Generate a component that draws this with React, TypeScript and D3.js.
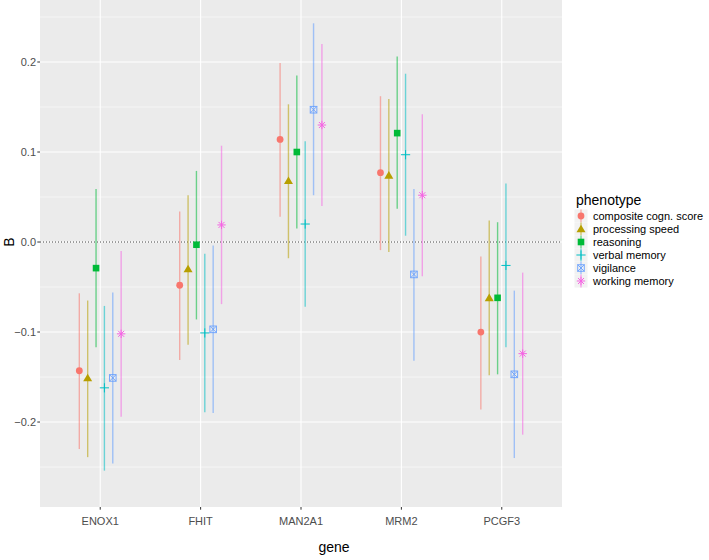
import React from "react";
import * as d3 from "d3";

const genes = ["ENOX1", "FHIT", "MAN2A1", "MRM2", "PCGF3"];
const phenotypes = [
  "composite cogn. score",
  "processing speed",
  "reasoning",
  "verbal memory",
  "vigilance",
  "working memory",
];
const colors = ["#F8766D", "#B79F00", "#00BA38", "#00BFC4", "#619CFF", "#F564E3"];
const shapes = ["circle", "triangle", "square", "plus", "squarecross", "asterisk"];

// [phenotype][gene]
const estimate = [
  [-0.143, -0.048, 0.114, 0.077, -0.1],
  [-0.151, -0.03, 0.068, 0.074, -0.062],
  [-0.029, -0.003, 0.1, 0.121, -0.062],
  [-0.162, -0.101, 0.02, 0.097, -0.026],
  [-0.151, -0.097, 0.147, -0.036, -0.147],
  [-0.102, 0.019, 0.13, 0.052, -0.124],
];
const lower = [
  [-0.23, -0.131, 0.028, -0.009, -0.186],
  [-0.239, -0.114, -0.018, -0.011, -0.148],
  [-0.117, -0.086, 0.015, 0.037, -0.147],
  [-0.254, -0.189, -0.072, 0.007, -0.117],
  [-0.246, -0.19, 0.052, -0.132, -0.24],
  [-0.194, -0.069, 0.04, -0.038, -0.214],
];
const upper = [
  [-0.057, 0.034, 0.199, 0.162, -0.016],
  [-0.065, 0.052, 0.153, 0.159, 0.024],
  [0.059, 0.079, 0.185, 0.206, 0.022],
  [-0.071, -0.013, 0.112, 0.187, 0.065],
  [-0.056, -0.004, 0.243, 0.059, -0.054],
  [-0.01, 0.107, 0.22, 0.142, -0.034],
];
const yTicks = [-0.2, -0.1, 0.0, 0.1, 0.2];
const yDomain = [-0.2944, 0.2689];

const W = 709;
const H = 560;
const P = { left: 40, right: 562, top: 0, bottom: 507 };
const FONT = "'Liberation Sans', Arial, Helvetica, sans-serif";

function Marker({ shape, color, x, y }: { shape: string; color: string; x: number; y: number }) {
  const s = 3.3;
  switch (shape) {
    case "circle":
      return <circle cx={x} cy={y} r={3.4} fill={color} />;
    case "triangle":
      return (
        <path
          d={`M${x},${y - 4.3}L${x + 4.5},${y + 3.3}L${x - 4.5},${y + 3.3}Z`}
          fill={color}
        />
      );
    case "square":
      return <rect x={x - 3.3} y={y - 3.3} width={6.6} height={6.6} fill={color} />;
    case "plus":
      return (
        <path
          d={`M${x - 4.6},${y}H${x + 4.6}M${x},${y - 4.6}V${y + 4.6}`}
          stroke={color}
          strokeWidth={1}
          fill="none"
        />
      );
    case "squarecross":
      return (
        <g stroke={color} strokeWidth={1} fill="none" opacity={0.85}>
          <rect x={x - s} y={y - s} width={2 * s} height={2 * s} />
          <path d={`M${x - s},${y - s}L${x + s},${y + s}M${x + s},${y - s}L${x - s},${y + s}`} />
        </g>
      );
    case "asterisk":
      return (
        <path
          d={`M${x - 4.2},${y}H${x + 4.2}M${x},${y - 4.2}V${y + 4.2}M${x - 3},${y - 3}L${x + 3},${y + 3}M${x + 3},${y - 3}L${x - 3},${y + 3}`}
          stroke={color}
          strokeWidth={1}
          fill="none"
        />
      );
    default:
      return null;
  }
}

export default function App() {
  const y = d3.scaleLinear().domain(yDomain).range([P.bottom, P.top]);
  const x = d3.scalePoint<string>().domain(genes).range([P.left, P.right]).padding(0.6);
  const step = x.step();
  const dodgeW = 0.5 * step;
  const n = phenotypes.length;
  const off = (i: number) => -dodgeW / 2 + (i + 0.5) * (dodgeW / n);

  const minorTicks = [-0.25, -0.15, -0.05, 0.05, 0.15, 0.25];

  const legendX = 576;
  const legendTitleY = 205;
  const keyY0 = 216;
  const keyStep = 13;

  return (
    <svg width={W} height={H} style={{ display: "block", position: "absolute", left: 0, top: 0 }} fontFamily={FONT}>
      <rect x={0} y={0} width={W} height={H} fill="#FFFFFF" />
      <rect x={P.left} y={P.top} width={P.right - P.left} height={P.bottom - P.top} fill="#EBEBEB" />
      {minorTicks.map((t, i) => (
        <line key={"mn" + i} x1={P.left} x2={P.right} y1={y(t)} y2={y(t)} stroke="#FFFFFF" strokeWidth={0.55} />
      ))}
      {yTicks.map((t, i) => (
        <line key={"mj" + i} x1={P.left} x2={P.right} y1={y(t)} y2={y(t)} stroke="#FFFFFF" strokeWidth={1.1} />
      ))}
      {genes.map((g) => (
        <line key={"gx" + g} x1={x(g)} x2={x(g)} y1={P.top} y2={P.bottom} stroke="#FFFFFF" strokeWidth={1.1} />
      ))}
      <line
        x1={P.left}
        x2={P.right}
        y1={y(0)}
        y2={y(0)}
        stroke="#444444"
        strokeWidth={1}
        strokeDasharray="1,2"
      />
      {phenotypes.map((p, pi) =>
        genes.map((g, gi) => {
          const cx = (x(g) as number) + off(pi);
          return (
            <line
              key={`l${pi}-${gi}`}
              x1={cx}
              x2={cx}
              y1={y(lower[pi][gi])}
              y2={y(upper[pi][gi])}
              stroke={colors[pi]}
              strokeWidth={1.4}
              strokeOpacity={0.55}
            />
          );
        })
      )}
      {phenotypes.map((p, pi) =>
        genes.map((g, gi) => {
          const cx = (x(g) as number) + off(pi);
          return <Marker key={`m${pi}-${gi}`} shape={shapes[pi]} color={colors[pi]} x={cx} y={y(estimate[pi][gi])} />;
        })
      )}
      {/* y axis */}
      {yTicks.map((t, i) => (
        <g key={"yt" + i}>
          <line x1={P.left - 2.7} x2={P.left} y1={y(t)} y2={y(t)} stroke="#333333" strokeWidth={1} />
          <text
            x={P.left - 4}
            y={y(t)}
            textAnchor="end"
            dominantBaseline="central"
            fontSize={11}
            fill="#4D4D4D"
          >
            {d3.format(".1f")(t)}
          </text>
        </g>
      ))}
      {/* x axis */}
      {genes.map((g) => (
        <g key={"xt" + g}>
          <line x1={x(g)} x2={x(g)} y1={P.bottom} y2={P.bottom + 2.7} stroke="#333333" strokeWidth={1} />
          <text x={x(g)} y={P.bottom + 18} textAnchor="middle" fontSize={11} fill="#4D4D4D">
            {g}
          </text>
        </g>
      ))}
      <text x={334} y={552} textAnchor="middle" fontSize={14} fill="#000000">
        gene
      </text>
      <text
        transform={`translate(14,${y(0)}) rotate(-90)`}
        textAnchor="middle"
        fontSize={14}
        fill="#000000"
      >
        B
      </text>
      {/* legend */}
      <text x={legendX} y={legendTitleY} fontSize={14} fill="#000000">
        phenotype
      </text>
      {phenotypes.map((p, pi) => {
        const cy = keyY0 + pi * keyStep;
        const kx = legendX + 5;
        return (
          <g key={"lg" + pi}>
            <rect x={kx - 6.5} y={cy - 6.5} width={13} height={13} fill="#F2F2F2" />
            <line x1={kx} x2={kx} y1={cy - 6.5} y2={cy + 6.5} stroke={colors[pi]} strokeWidth={1.4} strokeOpacity={0.55} />
            <Marker shape={shapes[pi]} color={colors[pi]} x={kx} y={cy} />
            <text x={legendX + 17} y={cy} dominantBaseline="central" fontSize={11} fill="#000000">
              {p}
            </text>
          </g>
        );
      })}
    </svg>
  );
}
